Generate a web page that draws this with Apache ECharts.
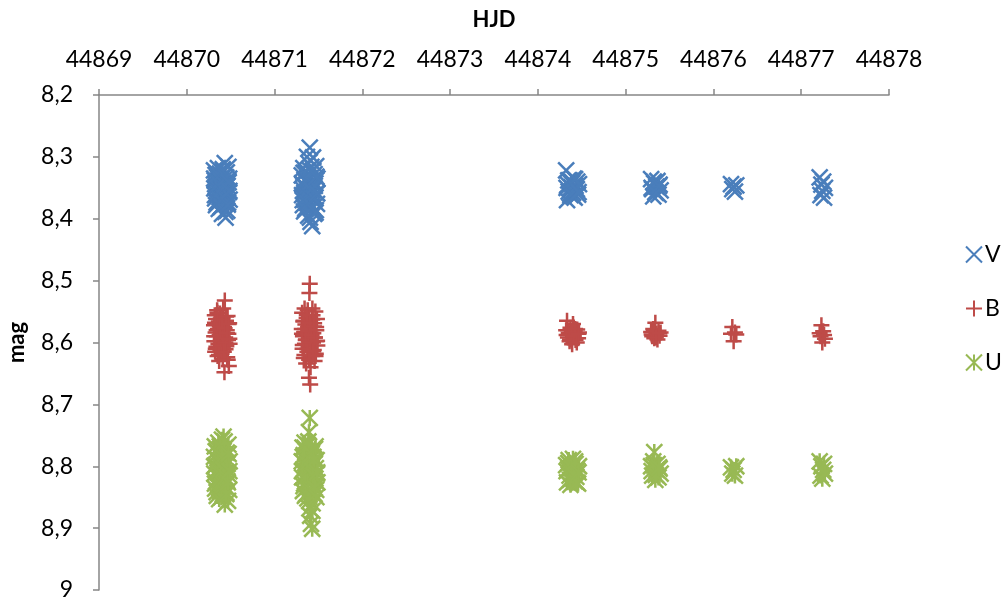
<!DOCTYPE html>
<html>
<head>
<meta charset="utf-8">
<script src="https://cdn.jsdelivr.net/npm/echarts@6/dist/echarts.min.js"></script>
<style>
html,body{margin:0;padding:0;background:#fff;}
#chart{width:1006px;height:603px;}
</style>
</head>
<body>
<div id="chart"></div>
<script>
// Observation times (HJD) shared by the three bands
const hjd = [
  44870.310, 44870.314, 44870.319, 44870.323, 44870.328, 44870.333, 44870.337, 44870.342, 44870.346, 44870.351,
  44870.355, 44870.360, 44870.365, 44870.369, 44870.374, 44870.378, 44870.383, 44870.387, 44870.392, 44870.397,
  44870.401, 44870.406, 44870.410, 44870.415, 44870.419, 44870.424, 44870.429, 44870.433, 44870.438, 44870.442,
  44870.447, 44870.451, 44870.456, 44870.461, 44870.465, 44870.470, 44870.474, 44870.479, 44870.483, 44870.488,
  44871.310, 44871.314, 44871.319, 44871.323, 44871.328, 44871.333, 44871.337, 44871.342, 44871.346, 44871.351,
  44871.355, 44871.360, 44871.365, 44871.369, 44871.374, 44871.378, 44871.383, 44871.387, 44871.392, 44871.397,
  44871.401, 44871.406, 44871.410, 44871.415, 44871.419, 44871.424, 44871.429, 44871.433, 44871.438, 44871.442,
  44871.447, 44871.451, 44871.456, 44871.461, 44871.465, 44871.470, 44871.474, 44871.479, 44871.483, 44871.488,
  44874.322, 44874.332, 44874.342, 44874.351, 44874.361, 44874.371, 44874.380, 44874.390,
  44874.400, 44874.409, 44874.419, 44874.429, 44874.438, 44874.448, 44874.458, 44874.468,
  44875.290, 44875.302, 44875.314, 44875.326, 44875.338, 44875.350, 44875.362, 44875.374, 44875.386, 44875.398,
  44876.200, 44876.215, 44876.230, 44876.245, 44876.260,
  44877.210, 44877.220, 44877.230, 44877.240, 44877.250, 44877.260, 44877.270,
  44870.312, 44870.321, 44870.330, 44870.340, 44870.349, 44870.358, 44870.367, 44870.376, 44870.385, 44870.394,
  44870.403, 44870.412, 44870.422, 44870.431, 44870.440, 44870.449, 44870.458, 44870.467, 44870.476, 44870.485,
  44871.312, 44871.321, 44871.330, 44871.340, 44871.349, 44871.358, 44871.367, 44871.376, 44871.385, 44871.394,
  44871.403, 44871.412, 44871.422, 44871.431, 44871.440, 44871.449, 44871.458, 44871.467, 44871.476, 44871.485,
  44874.327, 44874.346, 44874.366, 44874.385, 44874.404, 44874.424, 44874.443, 44874.463,
  44875.296, 44875.320, 44875.344, 44875.380
];

const vMag = [
  8.322, 8.351, 8.338, 8.367, 8.329, 8.378, 8.345, 8.360, 8.333, 8.372,
  8.318, 8.356, 8.384, 8.341, 8.365, 8.327, 8.349, 8.381, 8.336, 8.362,
  8.392, 8.344, 8.320, 8.370, 8.353, 8.331, 8.376, 8.310, 8.358, 8.398,
  8.340, 8.366, 8.325, 8.387, 8.347, 8.374, 8.316, 8.357, 8.335, 8.369,
  8.330, 8.362, 8.345, 8.378, 8.318, 8.354, 8.388, 8.337, 8.369, 8.325,
  8.350, 8.382, 8.341, 8.300, 8.366, 8.333, 8.395, 8.357, 8.320, 8.374,
  8.285, 8.346, 8.405, 8.362, 8.316, 8.380, 8.412, 8.338, 8.301, 8.370,
  8.353, 8.392, 8.328, 8.365, 8.343, 8.386, 8.315, 8.358, 8.376, 8.335,
  8.322, 8.370, 8.345, 8.356, 8.338, 8.362, 8.349, 8.341,
  8.358, 8.335, 8.366, 8.347, 8.353, 8.340, 8.361, 8.344,
  8.336, 8.352, 8.364, 8.343, 8.357, 8.348, 8.339, 8.361, 8.345, 8.354,
  8.344, 8.352, 8.348, 8.356, 8.346,
  8.333, 8.362, 8.345, 8.355, 8.340, 8.366, 8.350,
  8.335, 8.362, 8.348, 8.374, 8.328, 8.357, 8.343, 8.369, 8.338, 8.380,
  8.352, 8.324, 8.366, 8.345, 8.389, 8.333, 8.360, 8.377, 8.341, 8.355,
  8.343, 8.370, 8.326, 8.358, 8.384, 8.349, 8.336, 8.375, 8.310, 8.362,
  8.398, 8.340, 8.354, 8.381, 8.322, 8.367, 8.347, 8.390, 8.332, 8.359,
  8.350, 8.338, 8.359, 8.343, 8.364, 8.336, 8.352, 8.357,
  8.350, 8.340, 8.358, 8.347
];

const bMag = [
  8.572, 8.598, 8.556, 8.615, 8.584, 8.562, 8.607, 8.590, 8.548, 8.622,
  8.578, 8.603, 8.566, 8.630, 8.588, 8.553, 8.612, 8.595, 8.570, 8.618,
  8.583, 8.560, 8.627, 8.545, 8.600, 8.575, 8.648, 8.532, 8.592, 8.611,
  8.565, 8.606, 8.580, 8.624, 8.557, 8.596, 8.586, 8.638, 8.569, 8.602,
  8.578, 8.552, 8.610, 8.590, 8.566, 8.625, 8.583, 8.545, 8.602, 8.571,
  8.596, 8.634, 8.560, 8.587, 8.615, 8.548, 8.575, 8.606, 8.657, 8.520,
  8.505, 8.668, 8.640, 8.593, 8.580, 8.622, 8.563, 8.556, 8.600, 8.585,
  8.612, 8.569, 8.630, 8.592, 8.550, 8.618, 8.575, 8.598, 8.562, 8.605,
  8.580, 8.565, 8.592, 8.585, 8.598, 8.576, 8.588, 8.603,
  8.570, 8.590, 8.582, 8.596, 8.586, 8.579, 8.593, 8.584,
  8.583, 8.590, 8.578, 8.593, 8.568, 8.586, 8.595, 8.581, 8.589, 8.584,
  8.586, 8.575, 8.598, 8.584, 8.587,
  8.585, 8.590, 8.572, 8.600, 8.582, 8.588, 8.594,
  8.590, 8.568, 8.610, 8.580, 8.552, 8.598, 8.620, 8.574, 8.588, 8.605,
  8.563, 8.593, 8.615, 8.577, 8.600, 8.558, 8.585, 8.628, 8.570, 8.594,
  8.586, 8.604, 8.565, 8.620, 8.578, 8.595, 8.555, 8.610, 8.582, 8.628,
  8.568, 8.600, 8.588, 8.545, 8.614, 8.574, 8.592, 8.622, 8.580, 8.597,
  8.588, 8.580, 8.595, 8.583, 8.590, 8.578, 8.600, 8.586,
  8.587, 8.582, 8.592, 8.585
];

const uMag = [
  8.785, 8.812, 8.768, 8.836, 8.798, 8.825, 8.775, 8.848, 8.806, 8.790,
  8.830, 8.762, 8.818, 8.853, 8.794, 8.772, 8.840, 8.803, 8.782, 8.827,
  8.757, 8.815, 8.845, 8.788, 8.752, 8.833, 8.799, 8.862, 8.770, 8.821,
  8.809, 8.843, 8.778, 8.824, 8.796, 8.856, 8.765, 8.814, 8.838, 8.792,
  8.792, 8.818, 8.770, 8.840, 8.805, 8.782, 8.828, 8.762, 8.848, 8.800,
  8.775, 8.835, 8.813, 8.787, 8.852, 8.766, 8.822, 8.796, 8.745, 8.868,
  8.722, 8.880, 8.808, 8.893, 8.842, 8.778, 8.901, 8.860, 8.816, 8.785,
  8.830, 8.797, 8.845, 8.772, 8.820, 8.803, 8.838, 8.790, 8.812, 8.826,
  8.798, 8.826, 8.805, 8.790, 8.815, 8.830, 8.802, 8.820,
  8.788, 8.811, 8.824, 8.796, 8.817, 8.807, 8.828, 8.800,
  8.800, 8.815, 8.792, 8.777, 8.822, 8.806, 8.796, 8.818, 8.804, 8.812,
  8.802, 8.812, 8.806, 8.815, 8.800,
  8.792, 8.815, 8.800, 8.820, 8.806, 8.796, 8.812,
  8.800, 8.828, 8.776, 8.842, 8.810, 8.790, 8.835, 8.768, 8.820, 8.850,
  8.784, 8.805, 8.830, 8.760, 8.817, 8.845, 8.795, 8.826, 8.780, 8.808,
  8.808, 8.785, 8.832, 8.770, 8.818, 8.845, 8.795, 8.826, 8.760, 8.856,
  8.803, 8.838, 8.780, 8.872, 8.815, 8.790, 8.835, 8.768, 8.850, 8.810,
  8.808, 8.795, 8.822, 8.803, 8.814, 8.792, 8.826, 8.810,
  8.808, 8.798, 8.814, 8.802
];

const seriesNames = ['V', 'B', 'U'];
const seriesColors = ['#4A7EBB', '#BE4B48', '#98B954'];

const FONT = 'Lato, "Open Sans", sans-serif';
const symV = 'path://M0,0L10,10M10,0L0,10';
const symB = 'path://M5,0L5,10M0,5L10,5';
const symU = 'path://M0,0L10,10M10,0L0,10M5,0L5,10';
const symbols = [symV, symB, symU];
const mags = [vMag, bMag, uMag];

function pairs(m) { return hjd.map((t, i) => [t, m[i]]); }

const chart = echarts.init(document.getElementById('chart'), null, {renderer: 'canvas'});
const series = seriesNames.map((name, k) => ({
  name: name,
  type: 'scatter',
  data: pairs(mags[k]),
  symbol: symbols[k],
  symbolSize: 16,
  symbolKeepAspect: true,
  itemStyle: {color: 'rgba(0,0,0,0)', borderColor: seriesColors[k], borderWidth: 2.5, opacity: 1},
  emphasis: {disabled: true},
  animation: false
}));

chart.setOption({
  animation: false,
  grid: {left: 99, top: 95, right: 117, bottom: 13, containLabel: false, outerBoundsMode: 'none'},
  legend: {
    orient: 'vertical',
    left: 960,
    top: 238,
    itemWidth: 16,
    itemHeight: 16,
    itemGap: 31,
    textStyle: {fontFamily: FONT, fontSize: 23, color: '#000', padding: [0, 0, 0, -2]},
    data: seriesNames.map((n, k) => ({
      name: n,
      icon: symbols[k],
      itemStyle: {color: 'rgba(0,0,0,0)', borderColor: seriesColors[k], borderWidth: 2}
    }))
  },
  xAxis: {
    type: 'value',
    position: 'top',
    min: 44869,
    max: 44878,
    interval: 1,
    name: 'HJD',
    nameLocation: 'middle',
    nameGap: 64,
    nameTextStyle: {fontFamily: FONT, fontSize: 22, fontWeight: 'bold', color: '#000'},
    axisLine: {show: true, lineStyle: {color: '#868686', width: 1.5}},
    axisTick: {show: true, inside: false, length: 6, lineStyle: {color: '#868686', width: 1.5}},
    axisLabel: {fontFamily: FONT, fontSize: 23, color: '#000', margin: 24, formatter: v => String(v)},
    splitLine: {show: false}
  },
  yAxis: {
    type: 'value',
    inverse: true,
    min: 8.2,
    max: 9,
    interval: 0.1,
    name: 'mag',
    nameLocation: 'middle',
    nameGap: 71,
    nameTextStyle: {fontFamily: FONT, fontSize: 22, fontWeight: 'bold', color: '#000'},
    axisLine: {show: true, lineStyle: {color: '#868686', width: 1.5}},
    axisTick: {show: true, inside: false, length: 6, lineStyle: {color: '#868686', width: 1.5}},
    axisLabel: {
      fontFamily: FONT, fontSize: 23, color: '#000', margin: 26,
      formatter: v => String(Math.round(v * 10) / 10).replace('.', ',')
    },
    splitLine: {show: false}
  },
  series: series
});
</script>
</body>
</html>
